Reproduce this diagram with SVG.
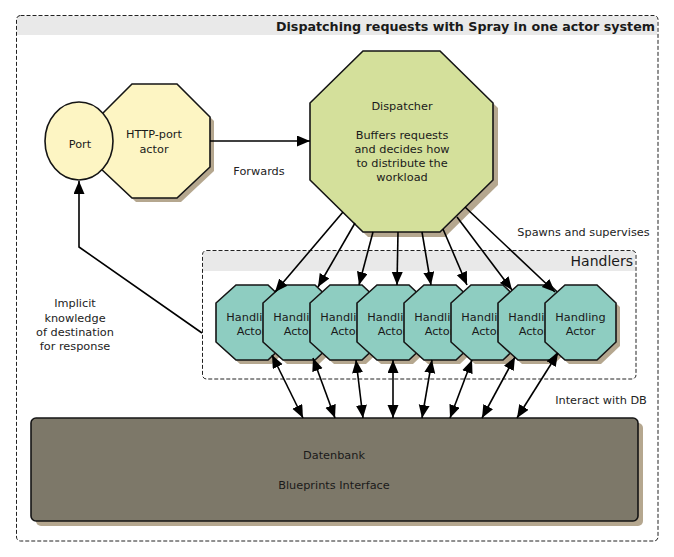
<svg xmlns="http://www.w3.org/2000/svg" width="674" height="557" viewBox="0 0 674 557">
<style>
.frame{fill:none;stroke:#222;stroke-width:1;stroke-dasharray:4 2}
.band{fill:#e9e9e9}
.shadow{fill:#b5a78f}
.node{stroke:#151515;stroke-width:1.6}
.yellow{fill:#fdf5c3}
.green{fill:#d4e09b}
.teal{fill:#8ecdc1}
.db{fill:#7d7869}
text{font-family:"DejaVu Sans",Verdana,sans-serif;font-size:11.3px;fill:#1a1a1a;text-anchor:middle}
.title{font-weight:bold;font-size:12.7px;text-anchor:end}
.hdr{font-size:14px;text-anchor:end}
.lbl{fill:#222}
.conn line,.conn polyline{stroke:#000;stroke-width:1.6;fill:none}
</style>
<defs>
<marker id="ah" markerUnits="userSpaceOnUse" markerWidth="14" markerHeight="12" refX="13" refY="5.5" orient="auto-start-reverse"><path d="M0,0 L13,5.5 L0,11 z" fill="#000"/></marker>
<polygon id="hoct" points="20,0 52,0 71,18 71,57 52,75 20,75 0,57 0,18"/>
</defs>

<g id="system-frame">
<rect class="band" x="17" y="16" width="640" height="19"/>
<rect class="frame" x="16.5" y="15.5" width="641.5" height="525.5" rx="4"/>
<text class="title" x="655" y="31">Dispatching requests with Spray in one actor system</text>
</g>

<g id="handlers-frame">
<rect class="band" x="203" y="251" width="432" height="20"/>
<rect class="frame" x="202.5" y="250.5" width="433.5" height="128.5" rx="4"/>
<text class="hdr" x="633" y="266">Handlers</text>
</g>

<g id="http-port-actor">
<polygon class="shadow" points="136,88 181,88 214,121 214,171 181,202 136,202 103,171 103,121"/>
<polygon class="node yellow" points="132,84 177,84 210,117 210,167 177,198 132,198 99,167 99,117"/>
<text x="154" y="138">HTTP-port</text>
<text x="154" y="153">actor</text>
</g>

<g id="port">
<ellipse class="node yellow" cx="79" cy="141" rx="34" ry="39"/>
<text x="80" y="148">Port</text>
</g>

<g id="dispatcher">
<polygon class="shadow" points="368,56 445,56 498,108 498,185 445,237 368,237 315,185 315,108"/>
<polygon class="node green" points="363,51 440,51 493,103 493,180 440,232 363,232 310,180 310,103"/>
<text x="402" y="110">Dispatcher</text>
<text x="402" y="138.5">Buffers requests</text>
<text x="402" y="152.5">and decides how</text>
<text x="402" y="166.5">to distribute the</text>
<text x="402" y="180.5">workload</text>
</g>

<g id="handler-1" transform="translate(216,285)"><use href="#hoct" class="shadow" x="4" y="4"/><use href="#hoct" class="node teal"/><text x="35.5" y="36">Handling</text><text x="35.5" y="50">Actor</text></g>
<g id="handler-2" transform="translate(263,285)"><use href="#hoct" class="shadow" x="4" y="4"/><use href="#hoct" class="node teal"/><text x="35.5" y="36">Handling</text><text x="35.5" y="50">Actor</text></g>
<g id="handler-3" transform="translate(310,285)"><use href="#hoct" class="shadow" x="4" y="4"/><use href="#hoct" class="node teal"/><text x="35.5" y="36">Handling</text><text x="35.5" y="50">Actor</text></g>
<g id="handler-4" transform="translate(357,285)"><use href="#hoct" class="shadow" x="4" y="4"/><use href="#hoct" class="node teal"/><text x="35.5" y="36">Handling</text><text x="35.5" y="50">Actor</text></g>
<g id="handler-5" transform="translate(404,285)"><use href="#hoct" class="shadow" x="4" y="4"/><use href="#hoct" class="node teal"/><text x="35.5" y="36">Handling</text><text x="35.5" y="50">Actor</text></g>
<g id="handler-6" transform="translate(451,285)"><use href="#hoct" class="shadow" x="4" y="4"/><use href="#hoct" class="node teal"/><text x="35.5" y="36">Handling</text><text x="35.5" y="50">Actor</text></g>
<g id="handler-7" transform="translate(498,285)"><use href="#hoct" class="shadow" x="4" y="4"/><use href="#hoct" class="node teal"/><text x="35.5" y="36">Handling</text><text x="35.5" y="50">Actor</text></g>
<g id="handler-8" transform="translate(545,285)"><use href="#hoct" class="shadow" x="4" y="4"/><use href="#hoct" class="node teal"/><text x="35.5" y="36">Handling</text><text x="35.5" y="50">Actor</text></g>

<g id="datenbank">
<rect class="shadow" x="36" y="423" width="607" height="103" rx="5"/>
<rect class="node db" x="31" y="418" width="607" height="103" rx="5"/>
<text x="334" y="459">Datenbank</text>
<text x="334" y="489">Blueprints Interface</text>
</g>

<g id="connectors" class="conn">
<line x1="210" y1="141" x2="310" y2="141" marker-end="url(#ah)"/>
<polyline points="202,333 79,247 79,181" marker-end="url(#ah)"/>
<line x1="343" y1="212" x2="275" y2="292" marker-end="url(#ah)"/>
<line x1="355" y1="223" x2="318" y2="287" marker-end="url(#ah)"/>
<line x1="373" y1="232" x2="359" y2="285" marker-end="url(#ah)"/>
<line x1="398" y1="232" x2="397" y2="285" marker-end="url(#ah)"/>
<line x1="422" y1="232" x2="431" y2="285" marker-end="url(#ah)"/>
<line x1="443" y1="229" x2="467" y2="285" marker-end="url(#ah)"/>
<line x1="457" y1="217" x2="512" y2="290" marker-end="url(#ah)"/>
<line x1="465" y1="207" x2="555" y2="292" marker-end="url(#ah)"/>
<line x1="272" y1="355" x2="303" y2="418" marker-start="url(#ah)" marker-end="url(#ah)"/>
<line x1="313" y1="358" x2="335" y2="418" marker-start="url(#ah)" marker-end="url(#ah)"/>
<line x1="356" y1="360" x2="363" y2="418" marker-start="url(#ah)" marker-end="url(#ah)"/>
<line x1="393" y1="360" x2="393" y2="418" marker-start="url(#ah)" marker-end="url(#ah)"/>
<line x1="432" y1="360" x2="422" y2="418" marker-start="url(#ah)" marker-end="url(#ah)"/>
<line x1="472" y1="360" x2="450" y2="418" marker-start="url(#ah)" marker-end="url(#ah)"/>
<line x1="515" y1="357" x2="482" y2="418" marker-start="url(#ah)" marker-end="url(#ah)"/>
<line x1="558" y1="353" x2="517" y2="418" marker-start="url(#ah)" marker-end="url(#ah)"/>
<text class="lbl" x="259" y="175">Forwards</text>
<text class="lbl" x="583.5" y="236">Spawns and supervises</text>
<text class="lbl" x="601" y="404">Interact with DB</text>
<text class="lbl" x="75" y="307">Implicit</text>
<text class="lbl" x="75" y="322">knowledge</text>
<text class="lbl" x="75" y="336">of destination</text>
<text class="lbl" x="75" y="350">for response</text>
</g>
</svg>
